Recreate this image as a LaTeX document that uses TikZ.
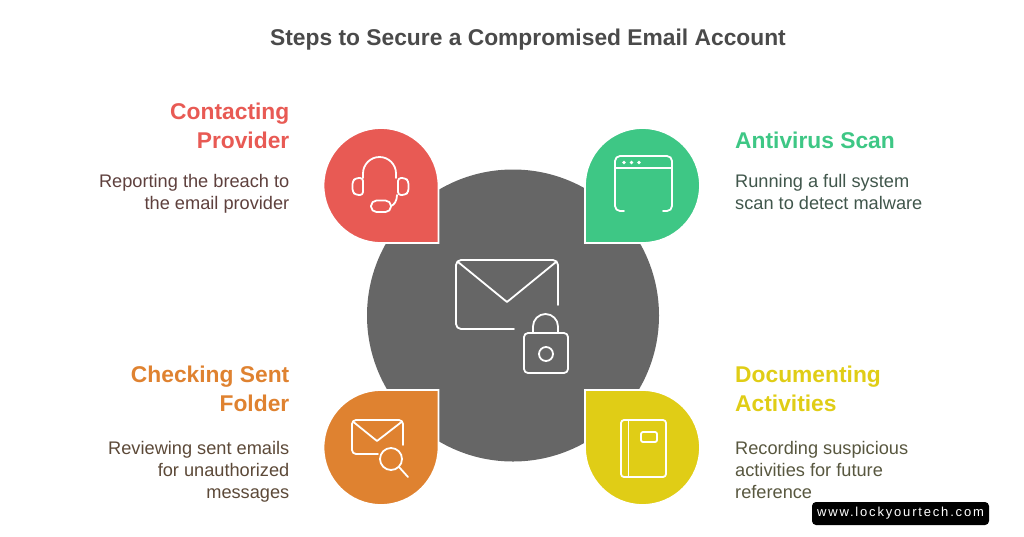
\documentclass[tikz,border=0pt]{standalone}
\usepackage{fontspec}
\setmainfont{Liberation Sans}
\newfontfamily\markfont[LetterSpace=14]{Liberation Sans}
\definecolor{hubgray}{HTML}{666666}
\definecolor{titlegray}{HTML}{4A4A4A}
\definecolor{redmain}{HTML}{E85A54}
\definecolor{redtext}{HTML}{5E403D}
\definecolor{greenmain}{HTML}{3EC785}
\definecolor{greentext}{HTML}{40564B}
\definecolor{orangemain}{HTML}{DF8230}
\definecolor{orangetext}{HTML}{5C4938}
\definecolor{yellowmain}{HTML}{E0CD16}
\definecolor{yellowtext}{HTML}{58573F}
\tikzset{
  drop/.style={draw=white,line width=1.8pt},
  icon/.style={draw=white,line width=1.8pt,line cap=round,line join=round},
  head/.style={inner sep=0pt,font=\bfseries\fontsize{22.8}{29}\selectfont},
  desc/.style={inner sep=0pt,font=\fontsize{18.2}{22}\selectfont},
}
\begin{document}
\begin{tikzpicture}[x=1pt,y=-1pt]
  \useasboundingbox (0,0) rectangle (1024,536);

  \node[font=\bfseries\fontsize{22.8}{29}\selectfont,text=titlegray,inner sep=0pt] (title) at (528,39.5) {Steps to Secure a Compromised Email Account};

  \fill[hubgray] (513,315.5) circle (146);

  % drops
  \draw[drop,fill=redmain] (438.5,243) -- (438.5,185.5) arc[start angle=0,end angle=-270,radius=57.5] -- cycle;
  \draw[drop,fill=greenmain] (585,243) -- (585,185.5) arc[start angle=180,end angle=450,radius=57.5] -- cycle;
  \draw[drop,fill=orangemain] (438.5,390) -- (438.5,447.5) arc[start angle=0,end angle=270,radius=57.5] -- cycle;
  \draw[drop,fill=yellowmain] (585,390) -- (585,447.5) arc[start angle=180,end angle=-90,radius=57.5] -- cycle;

  % labels
  \node[head,text=redmain,align=right,anchor=north east] (contact) at (289.5,103) {Contacting\\Provider};
  \node[desc,text=redtext,align=right,anchor=north east] (contactdesc) at (289.5,174) {Reporting the breach to\\the email provider};
  \node[head,text=greenmain,align=left,anchor=north west] (scan) at (735,132) {Antivirus Scan};
  \node[desc,text=greentext,align=left,anchor=north west] (scandesc) at (735,174) {Running a full system\\scan to detect malware};
  \node[head,text=orangemain,align=right,anchor=north east] (sent) at (289.5,366) {Checking Sent\\Folder};
  \node[desc,text=orangetext,align=right,anchor=north east] (sentdesc) at (289.5,441) {Reviewing sent emails\\for unauthorized\\messages};
  \node[head,text=yellowmain,align=left,anchor=north west] (doc) at (735,366) {Documenting\\Activities};
  \node[desc,text=yellowtext,align=left,anchor=north west] (docdesc) at (735,441) {Recording suspicious\\activities for future\\reference};

  % headset
  \draw[icon] (363,178) -- (363,173.5) arc[start angle=180,end angle=360,radius=16.5] -- (396,178);
  \draw[icon,rounded corners=3pt] (363,178) -- (356,178) -- (352.5,181) -- (352.5,192) -- (356,195) -- (363,195) -- cycle;
  \draw[icon,rounded corners=3pt] (398,178) -- (405,178) -- (408.5,181) -- (408.5,192) -- (405,195) -- (398,195) -- cycle;
  \draw[icon,rounded corners=5.5pt] (371,200.5) rectangle (391,212);
  \draw[icon] (397,195) .. controls (397,201) and (394,205) .. (391,206);

  % envelope with lock
  \draw[icon,rounded corners=5pt] (558,305) -- (558,260) -- (456,260) -- (456,329) -- (514,329);
  \draw[icon] (458,262) -- (507,302) -- (556,262);
  \draw[icon,rounded corners=4pt] (524,333) rectangle (568,373);
  \draw[icon] (533,333) -- (533,326.5) arc[start angle=180,end angle=360,radius=12.5] -- (558,333);
  \draw[icon] (546,354) circle (7);

  % browser window
  \draw[icon,rounded corners=5pt] (624,211) -- (615,211) -- (615,156) -- (672,156) -- (672,211) -- (663,211);
  \draw[icon] (615,168) -- (672,168);
  \foreach \dotx in {624,631.5,639} \fill[white] (\dotx,162.5) circle (1.9);

  % envelope with magnifier
  \draw[icon,rounded corners=4pt] (403,445) -- (403,420) -- (352,420) -- (352,454) -- (378,454);
  \draw[icon] (353.5,422) -- (377,441) -- (401.5,422);
  \draw[icon] (391,459) circle (11);
  \draw[icon] (399,467) -- (408,477);

  % notebook
  \draw[icon,rounded corners=3pt] (621,420) rectangle (666,477);
  \draw[icon] (628.5,420) -- (628.5,477);
  \draw[icon,rounded corners=2pt] (641,432) rectangle (657,442);

  % web address
  \node[fill=black,rounded corners=4pt,text=white,font=\markfont\fontsize{13}{15}\selectfont,minimum width=177pt,minimum height=23pt,inner sep=0pt] (mark) at (900.5,513.5) {www.lockyourtech.com};
\end{tikzpicture}
\end{document}
